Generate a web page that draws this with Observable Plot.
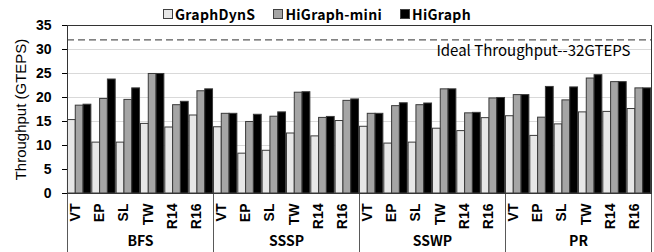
<!DOCTYPE html>
<html>
<head>
<meta charset="utf-8">
<script src="https://cdn.jsdelivr.net/npm/d3@7"></script>
<script src="https://cdn.jsdelivr.net/npm/@observablehq/plot@0.6"></script>
<style>
  html, body { margin: 0; padding: 0; background: #fff; }
  #wrap { position: relative; width: 654px; height: 252px; overflow: hidden; }
  #legend { position: absolute; left: 163px; top: 0; height: 28px; line-height: 28px; z-index: 3;
            font-family: "Noto Sans CJK SC", "Noto Sans", sans-serif; font-weight: bold; font-size: 14px;
            letter-spacing: 0.3px; color: #000; white-space: nowrap; display: flex; align-items: center; }
  .item { display: flex; align-items: center; margin-right: 18px; }
  .sw { width: 8px; height: 8px; border: 1px solid #404040; margin-right: 2px; }
  .layer { position: absolute; left: 0; top: 10px; }
  .layer svg { background: transparent !important; }
</style>
</head>
<body>
<div id="wrap">
  <div id="legend"></div>
  <div id="decor" class="layer" style="z-index:0"></div>
  <div id="bars" class="layer" style="z-index:1"></div>
</div>
<script>
// ---- data ----
const categories = ["BFS", "SSSP", "SSWP", "PR"];
const datasets = ["VT", "EP", "SL", "TW", "R14", "R16"];
const series = ["GraphDynS", "HiGraph-mini", "HiGraph"];
const graphDynS = [15.3, 10.6, 10.6, 14.5, 13.75, 16.25,
                   13.8, 8.3, 8.9, 12.5, 11.9, 15.1,
                   13.9, 10.4, 10.6, 13.5, 13.0, 15.7,
                   16.1, 12.0, 14.4, 16.9, 17.0, 17.6];
const hiGraphMini = [18.3, 19.7, 19.5, 24.9, 18.4, 21.3,
                     16.6, 14.9, 16.0, 21.0, 15.75, 19.3,
                     16.6, 18.2, 18.4, 21.7, 16.7, 19.8,
                     20.5, 15.8, 19.4, 23.95, 23.2, 21.9];
const hiGraph = [18.5, 23.75, 21.9, 24.9, 19.1, 21.7,
                 16.6, 16.4, 16.9, 21.1, 15.95, 19.6,
                 16.6, 18.8, 18.75, 21.7, 16.8, 19.9,
                 20.5, 22.2, 22.1, 24.65, 23.2, 21.9];
const yTicks = [0, 5, 10, 15, 20, 25, 30, 35];
const idealThroughput = 32;
const idealLabel = "Ideal Throughput--32GTEPS";
const yTitle = "Throughput (GTEPS)";
const fills = ["#e7e7e7", "#a5a5a5", "#000000"];

// ---- derived tables ----
const seriesValues = [graphDynS, hiGraphMini, hiGraph];
const groups = categories.flatMap((c, ci) => datasets.map((d, di) => ({
  category: c, dataset: d, key: c + "|" + d, idx: ci * datasets.length + di
})));
const keys = groups.map(g => g.key);
const rows = groups.flatMap(g => series.map((s, si) => ({key: g.key, series: s, value: seriesValues[si][g.idx]})));
const catInfo = categories.map((c, ci) => ({category: c, mid: ci * datasets.length + datasets.length / 2}));
const separators = d3.range(0, groups.length + 1, datasets.length);

const W = 654, H = 242;
const M = {marginTop: 15, marginRight: 3, marginBottom: 59, marginLeft: 67};

// ---- legend ----
const legend = document.getElementById("legend");
series.forEach((s, i) => {
  const it = document.createElement("div"); it.className = "item";
  const sw = document.createElement("div"); sw.className = "sw"; sw.style.background = fills[i];
  const tx = document.createElement("span"); tx.textContent = s;
  it.appendChild(sw); it.appendChild(tx); legend.appendChild(it);
});

// ---- decor layer: axes, grid, frame, labels ----
const decor = Plot.plot({
  width: W, height: H, ...M,
  style: {background: "transparent", fontFamily: "'Liberation Sans', Arial, sans-serif", fontSize: "14px", fontWeight: "bold", color: "#000"},
  x: {type: "linear", domain: [0, groups.length], axis: null},
  y: {domain: [0, 35], ticks: yTicks, tickSize: 5, tickPadding: 11, label: null},
  marks: [
    Plot.ruleY(yTicks.filter(t => t > 0 && t < 35), {stroke: "#d9d9d9", strokeWidth: 1}),
    Plot.ruleY([idealThroughput], {stroke: "#595959", strokeDasharray: "7,4", strokeWidth: 1.2}),
    Plot.text([idealThroughput], {y: d => d, text: () => idealLabel, frameAnchor: "right", textAnchor: "end",
      dx: -21, dy: 11, fontFamily: "'Noto Sans CJK SC', sans-serif", fontWeight: "normal", fontSize: 15, fill: "#000"}),
    Plot.ruleX(separators, {x: d => d, y1: 0, y2: 0, insetBottom: -59, stroke: "#595959", strokeWidth: 1}),
    Plot.frame({stroke: "#333"}),
    Plot.text(groups, {x: g => g.idx + 0.5, text: "dataset", frameAnchor: "bottom", dy: 10, rotate: -90,
      textAnchor: "end", fontSize: 14, fontWeight: "bold", fill: "#000"}),
    Plot.text(catInfo, {x: "mid", text: "category", frameAnchor: "bottom", dy: 52,
      fontFamily: "'Noto Sans CJK SC', sans-serif", fontSize: 14, fontWeight: "bold", fill: "#000"}),
    Plot.text([yTitle], {frameAnchor: "left", dx: -46, rotate: -90, textAnchor: "middle",
      fontWeight: "normal", fontSize: 15, fill: "#000"})
  ]
});
document.getElementById("decor").appendChild(decor);

// ---- bar layer ----
const bars = Plot.plot({
  width: W, height: H, ...M,
  style: {background: "transparent"},
  facet: {data: rows, x: "key"},
  fx: {domain: keys, padding: 0, round: false, axis: null, label: null},
  x: {domain: series, paddingInner: 0, paddingOuter: 0.06, round: false, axis: null},
  y: {domain: [0, 35], axis: null},
  color: {domain: series, range: fills},
  marks: [
    Plot.barY(rows, {x: "series", y: "value", fill: "series", stroke: "#3a3a3a", strokeWidth: 1})
  ]
});
document.getElementById("bars").appendChild(bars);
</script>
</body>
</html>
